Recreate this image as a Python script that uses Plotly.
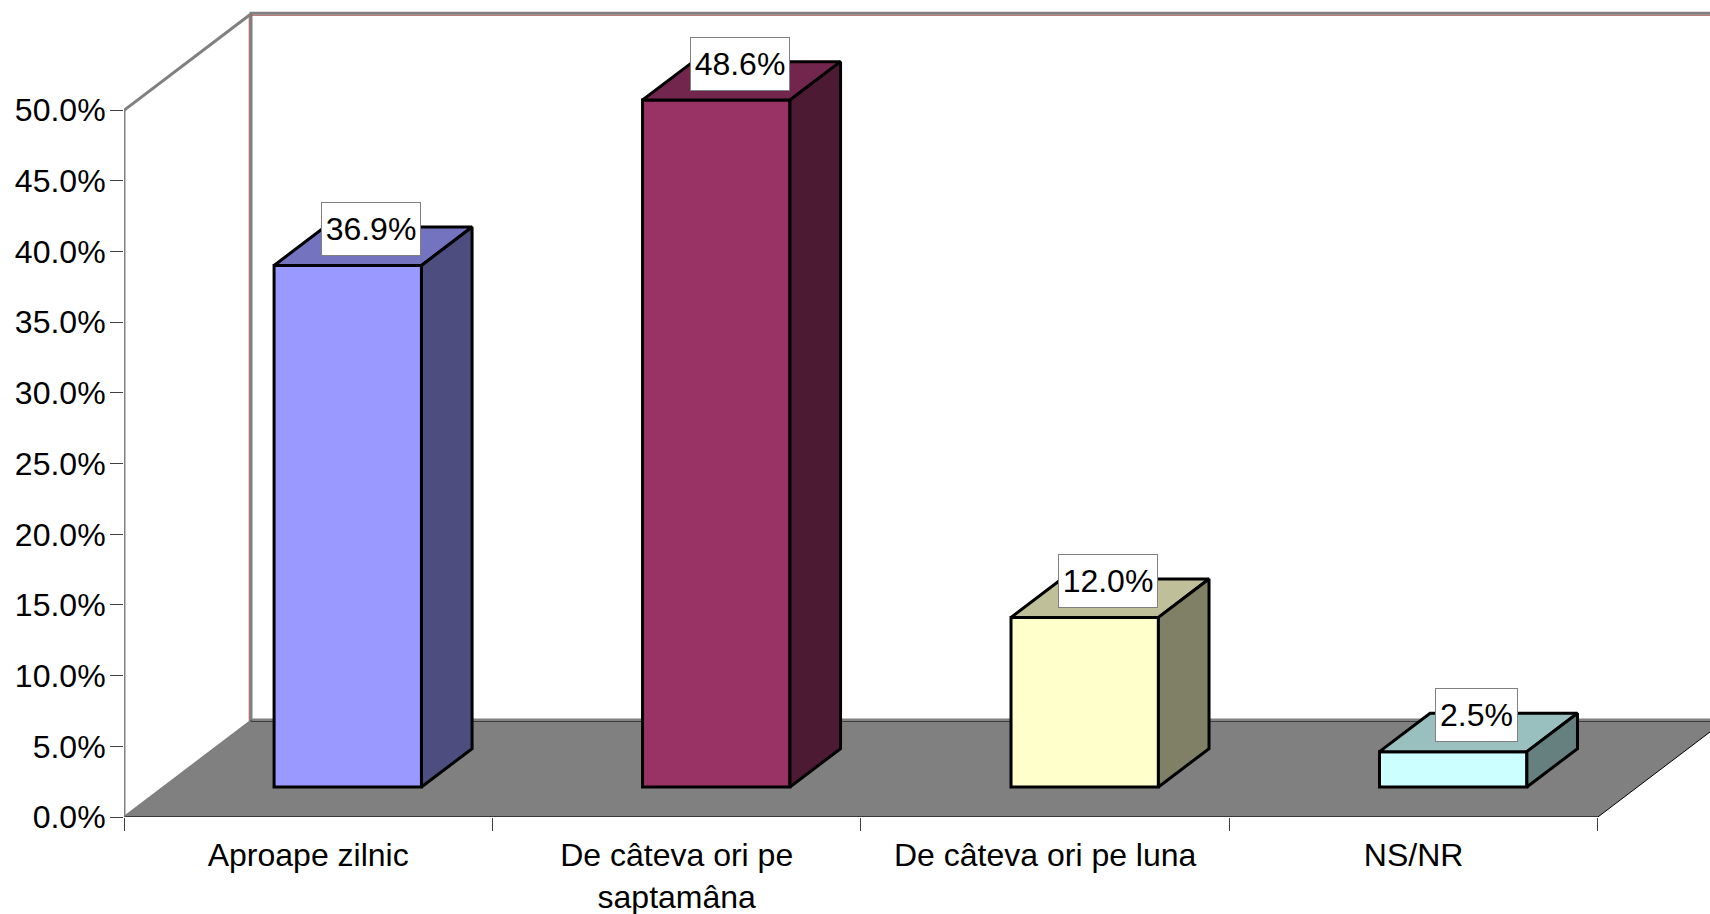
import plotly.graph_objects as go

# Data
categories = ["Aproape zilnic", "De câteva ori pe<br>saptamâna", "De câteva ori pe luna", "NS/NR"]
values = [36.9, 48.6, 12.0, 2.5]
y_ticks = [0, 5, 10, 15, 20, 25, 30, 35, 40, 45, 50]

# Styles
front_colors = ["#9999FF", "#993366", "#FFFFCC", "#CCFFFF"]
top_colors = ["#7373BF", "#73264D", "#BFBF99", "#99BFBF"]
side_colors = ["#4D4D80", "#4D1A33", "#808066", "#668080"]

# Pseudo-3D geometry, in axis units
W, H = 1710, 914
X0_PX, Y0_PX = 124.3, 817.3
CAT_PX, PCT_PX = 368.4, 14.14
DEPTH_X, DEPTH_Y = 126.5 / CAT_PX, 96 / PCT_PX
BAR_W = 0.4
D0, D1 = 0.3125, 0.7125
n = len(categories)
xmax = (W - X0_PX) / CAT_PX
ymax = Y0_PX / PCT_PX
ytop = y_ticks[-1]
PX, PY = 1 / CAT_PX, 1 / PCT_PX   # one pixel in axis units

fig = go.Figure()

GREY = "#808080"
RED = "#A85A5A"
shapes = []


def poly(xs, ys, fill="rgba(0,0,0,0)", color=GREY, width=1):
    path = "M" + " L".join(f"{a},{b}" for a, b in zip(xs, ys))
    shapes.append(dict(type="path", path=path, fillcolor=fill, line=dict(color=color, width=width),
                       layer="below", xref="x", yref="y"))


# Back wall edges: grey band with a thin red inner line
poly([DEPTH_X + 0.5 * PX, DEPTH_X + 0.5 * PX, n + DEPTH_X],
     [DEPTH_Y, ytop + DEPTH_Y + PY, ytop + DEPTH_Y + PY], color=GREY, width=3)
poly([DEPTH_X - 1.3 * PX, DEPTH_X - 1.3 * PX], [DEPTH_Y, ytop + DEPTH_Y], color=RED, width=1)
poly([DEPTH_X, n + DEPTH_X], [ytop + DEPTH_Y - 1 * PY, ytop + DEPTH_Y - 1 * PY], color=RED, width=1)
# Floor
poly([0, DEPTH_X, n + DEPTH_X, n, 0], [0, DEPTH_Y, DEPTH_Y, 0, 0], fill=GREY, color="#000000", width=1)
poly([DEPTH_X, n + DEPTH_X], [DEPTH_Y + 1.5 * PY, DEPTH_Y + 1.5 * PY], color=GREY, width=2)
poly([0, DEPTH_X], [0, DEPTH_Y], color=GREY, width=2)
fig.update_layout(shapes=shapes)


def edge(xs, ys, color, width):
    fig.add_trace(go.Scatter(x=xs, y=ys, mode="lines", line=dict(color=color, width=width),
                             cliponaxis=False, hoverinfo="skip", showlegend=False))


# Side wall edges and axis line sit on the plot boundary, so they are left unclipped
edge([0, 0], [0, ytop], GREY, 3)
edge([-1.5 * PX, -1.5 * PX], [0, ytop], "#303030", 1)
edge([0, DEPTH_X], [ytop, ytop + DEPTH_Y], GREY, 3)
edge([0, n], [0, 0], "#303030", 1)

centers = [i + 0.5 + D0 * DEPTH_X for i in range(n)]
bases = [D0 * DEPTH_Y] * n

# Front faces
fig.add_trace(go.Bar(x=centers, y=values, base=bases, width=BAR_W,
                     marker=dict(color=front_colors, line=dict(color="#000000", width=3)),
                     hoverinfo="skip", showlegend=False))

# Top and side faces
dx = (D1 - D0) * DEPTH_X
dy = (D1 - D0) * DEPTH_Y
for c, b, v, tc, sc in zip(centers, bases, values, top_colors, side_colors):
    l, r, t = c - BAR_W / 2, c + BAR_W / 2, b + v
    fig.add_trace(go.Scatter(x=[l, l + dx, r + dx, r, l], y=[t, t + dy, t + dy, t, t], mode="lines",
                             fill="toself", fillcolor=tc, line=dict(color="#000000", width=3),
                             hoverinfo="skip", showlegend=False))
    fig.add_trace(go.Scatter(x=[r, r + dx, r + dx, r, r], y=[b, b + dy, t + dy, t, b], mode="lines",
                             fill="toself", fillcolor=sc, line=dict(color="#000000", width=3),
                             hoverinfo="skip", showlegend=False))

# Value labels
annotations = []
for c, b, v in zip(centers, bases, values):
    text = f"{v:.1f}%"
    annotations.append(dict(x=c + dx / 2 - 2 * PX, y=b + v + dy / 2 + 17 * PY, xref="x", yref="y",
                            text=text, showarrow=False, bgcolor="#FFFFFF",
                            width=(81 if len(text) == 4 else 98), height=52,
                            bordercolor=GREY, borderwidth=1, borderpad=0,
                            font=dict(family="Liberation Sans", size=32, color="#000000")))

fig.update_layout(
    width=W, height=H,
    margin=dict(l=X0_PX, r=0, t=0, b=H - Y0_PX, pad=0, autoexpand=False),
    paper_bgcolor="#FFFFFF", plot_bgcolor="#FFFFFF",
    font=dict(family="Liberation Sans", size=32, color="#000000"),
    showlegend=False, annotations=annotations,
    xaxis=dict(range=[0, xmax], tickmode="array",
               tickvals=[i + 0.5 for i in range(n)], ticktext=categories,
               ticks="", ticklabelstandoff=16, showgrid=False, zeroline=False, showline=False,
               minor=dict(tickmode="array", tickvals=list(range(n + 1)), ticks="outside",
                          ticklen=13, tickwidth=1, tickcolor="#404040", showgrid=False)),
    yaxis=dict(range=[0, ymax], tickmode="array", tickvals=y_ticks,
               ticktext=[f"{v:.1f}%" for v in y_ticks],
               ticks="outside", ticklen=13, tickwidth=1, tickcolor="#404040",
               ticklabelstandoff=-2,
               showgrid=False, zeroline=False, showline=False),
)

fig.write_html("out.html", config={"displayModeBar": False},
               post_script="document.body.style.margin='0';document.body.style.overflow='hidden';")
